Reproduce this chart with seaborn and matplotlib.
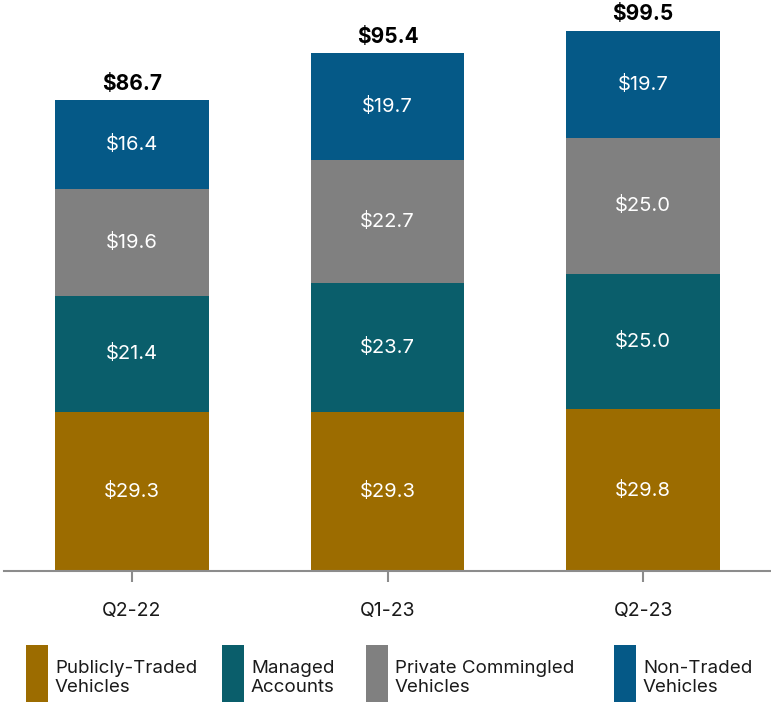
import numpy as np
import pandas as pd
import seaborn as sns
import matplotlib.pyplot as plt
from matplotlib.patches import Rectangle

# Data (US$ bn)
quarters = ["Q2-22", "Q1-23", "Q2-23"]
publicly_traded = [29.3, 29.3, 29.8]
managed_accounts = [21.4, 23.7, 25.0]
private_commingled = [19.6, 22.7, 25.0]
non_traded = [16.4, 19.7, 19.7]
totals = [86.7, 95.4, 99.5]

series_names = ["Publicly-Traded\nVehicles", "Managed\nAccounts",
                "Private Commingled\nVehicles", "Non-Traded\nVehicles"]
pallet = ["#9C6C00", "#0A5E6B", "#808080", "#055987"]

sns.set_theme(style="white")
plt.rcParams["font.family"] = ["Inter", "DejaVu Sans"]

series = [publicly_traded, managed_accounts, private_commingled, non_traded]
cum = np.cumsum(np.array(series), axis=0)

fig = plt.figure(figsize=(7.71, 7.03), dpi=100)
ax = fig.add_axes([4 / 771, 132 / 703, 767 / 771, 540 / 703])

# stacked bars: draw cumulative tops from the tallest layer down
for i in range(len(series) - 1, -1, -1):
    df = pd.DataFrame({"quarter": quarters, "value": cum[i]})
    sns.barplot(data=df, x="quarter", y="value", color=pallet[i], width=0.6,
                saturation=1, ax=ax, linewidth=0)

# segment labels
for i, vals in enumerate(series):
    for j, v in enumerate(vals):
        ax.text(j, cum[i][j] - v / 2, f"${v:.1f}", ha="center", va="center",
                color="white", fontsize=14.5)

# totals
for j, t in enumerate(totals):
    ax.text(j, cum[-1][j] + 1.2, f"${t:.1f}", ha="center", va="bottom",
            color="black", fontsize=15, fontweight="bold", clip_on=False)

ax.set_ylim(0, max(totals))
ax.set_xlim(-0.5, 2.5)
ax.set_xlabel("")
ax.set_ylabel("")
ax.set_yticks([])
for s in ["top", "right", "left"]:
    ax.spines[s].set_visible(False)
ax.spines["bottom"].set_color("#8C8C8C")
ax.spines["bottom"].set_linewidth(1.5)
ax.tick_params(axis="x", length=8, width=1.5, color="#8C8C8C", pad=14,
               labelsize=14, labelcolor="#1A1A1A", bottom=True)

# legend
leg_x = [26, 222, 366, 614]
for x, name, c in zip(leg_x, series_names, pallet):
    fig.add_artist(Rectangle((x / 771, 1 / 703), 22 / 771, 57 / 703,
                             transform=fig.transFigure, color=c, lw=0))
    fig.text((x + 29) / 771, 25 / 703, name, ha="left", va="center",
             fontsize=13.5, color="#1A1A1A", linespacing=1.12)

plt.savefig("out.png", dpi=100)
